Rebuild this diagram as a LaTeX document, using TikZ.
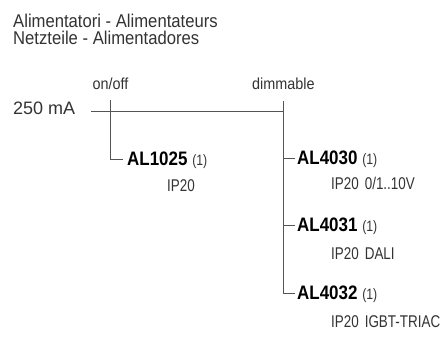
\documentclass[tikz,border=0pt]{standalone}
\usepackage{fontspec}
\setmainfont{Liberation Sans}
\newfontfamily\titlefont[FakeStretch=0.9]{Liberation Sans}
\newfontfamily\specfont[FakeStretch=0.79]{Liberation Sans}
\newfontfamily\notefont[FakeStretch=0.82]{Liberation Sans}
\newfontfamily\itemfont[FakeStretch=0.87]{Liberation Sans Bold}
\usetikzlibrary{positioning}
\definecolor{inkgray}{HTML}{333333}
\definecolor{linegray}{HTML}{555555}
\newcommand\refnote[1]{{\notefont\fontsize{15}{17}\selectfont\color{inkgray}#1}}

\begin{document}
\begin{tikzpicture}[x=1pt, y=-1pt,
    wire/.style={draw=linegray, line width=0.9pt},
    label/.style={inner sep=0pt, anchor=base west, text=inkgray},
    title/.style={label, font=\titlefont\fontsize{18.5}{21}\selectfont},
    branch/.style={label, font=\titlefont\fontsize{16}{18}\selectfont},
    item/.style={label, text depth=0pt, text=black, font=\itemfont\fontsize{19.5}{22}\selectfont},
    spec/.style={label, font=\specfont\fontsize{17}{19}\selectfont}
]
\useasboundingbox (0,0) rectangle (445,339);

% Titel
\node[title] (title1) at (13,27.5) {Alimentatori - Alimentateurs};
\node[title] (title2) at (13,44.5) {Netzteile - Alimentadores};

% Einspeisung
\node[label, font=\fontsize{18}{21}\selectfont] (current) at (13,115) {250 mA};
\node[branch] (onoff) at (92.5,90) {on/off};
\node[branch] (dimm) at (252,90) {dimmable};

% Geraete
\node[item] (al1025) at (127,166) {AL1025 \refnote{(1)}};
\node[spec] (al1025spec) at (167,192) {IP20};

\node[item] (al4030) at (297,165) {AL4030 \refnote{(1)}};
\node[spec] (al4030spec) at (331,190) {IP20\hskip6pt 0/1..10V};

\node[item] (al4031) at (297,232) {AL4031 \refnote{(1)}};
\node[spec] (al4031spec) at (331,260) {IP20\hskip6pt DALI};

\node[item] (al4032) at (297,300) {AL4032 \refnote{(1)}};
\node[spec] (al4032spec) at (331,328) {IP20\hskip6pt IGBT-TRIAC};

% Leitungen
\coordinate (feed) at (91,111);
\coordinate (offtop) at (110,100);
\coordinate (dimtop) at (283,101);

\draw[wire] (feed) -- (dimtop |- feed);
\draw[wire] (offtop) |- ([xshift=-4pt]al1025.west);
\draw[wire] (dimtop) |- ([xshift=-2pt]al4032.west);
\draw[wire] (dimtop |- al4030.west) -- ([xshift=-2pt]al4030.west);
\draw[wire] (dimtop |- al4031.west) -- ([xshift=-2pt]al4031.west);
\end{tikzpicture}
\end{document}
